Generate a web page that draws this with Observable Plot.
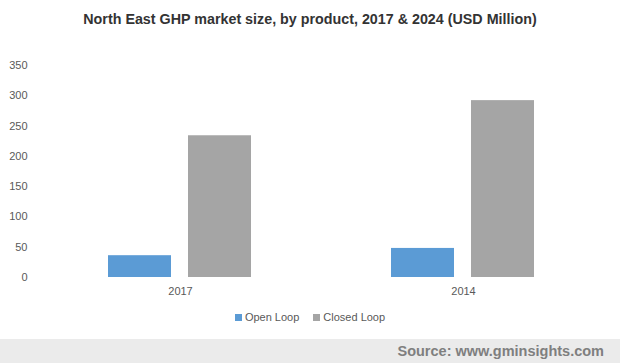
<!DOCTYPE html>
<html>
<head>
<meta charset="utf-8">
<script src="https://cdn.jsdelivr.net/npm/d3@7"></script>
<script src="https://cdn.jsdelivr.net/npm/@observablehq/plot@0.6"></script>
<style>
  html, body { margin: 0; padding: 0; background: #fff; }
  #page { position: relative; width: 620px; height: 363px; overflow: hidden; font-family: "Liberation Sans", Arial, sans-serif; }
  #title { position: absolute; top: 11px; left: 0; width: 620px; text-align: center; font-weight: bold; font-size: 14.3px; color: #333; }
  #chart { position: absolute; top: 40px; left: 0; }
  #legend { position: absolute; top: 308px; left: 0; width: 620px; display: flex; justify-content: center; }
  #legend > div { font-family: "Liberation Sans", Arial, sans-serif; font-size: 11px; color: #595959; min-height: 18px; margin: 0; }
  #legend [class$="-swatch"] > svg { margin-right: 3px; }
  #legend [class$="-swatch"] { margin-right: 14px; }
  #legend [class$="-swatch"]:last-child { margin-right: 0; }
  #footer { position: absolute; top: 339px; left: 0; width: 620px; height: 24px; background: #ebebeb; }
  #source { position: absolute; right: 16px; top: 4px; font-weight: bold; font-size: 14.5px; color: #7f7f7f; }
</style>
</head>
<body>
<div id="page">
  <div id="title">North East GHP market size, by product, 2017 &amp; 2024 (USD Million)</div>
  <div id="chart"></div>
  <div id="legend"></div>
  <div id="footer"><div id="source">Source: www.gminsights.com</div></div>
</div>
<script>
const years = ["2017", "2014"];
const products = ["Open Loop", "Closed Loop"];
const openLoop = [36, 48];
const closedLoop = [234, 292];
const yTicks = [0, 50, 100, 150, 200, 250, 300, 350];
const colors = ["#5B9BD5", "#A5A5A5"];

const data = [];
years.forEach((yr, i) => {
  data.push({year: yr, product: products[0], value: openLoop[i]});
  data.push({year: yr, product: products[1], value: closedLoop[i]});
});

const plot = Plot.plot({
  width: 620,
  height: 262,
  marginLeft: 38,
  marginRight: 15,
  marginTop: 25,
  marginBottom: 25,
  style: {fontSize: "11px", fontFamily: "'Liberation Sans', Arial, sans-serif", color: "#595959", background: "transparent"},
  fx: {domain: years, paddingInner: 0.491, paddingOuter: 0.247, axis: "bottom", label: null, tickSize: 0, tickPadding: 10},
  x: {domain: products, axis: null, paddingInner: 0.21, paddingOuter: 0},
  y: {domain: [0, 350], ticks: yTicks, tickSize: 0, tickPadding: 81, label: null},
  color: {domain: products, range: colors},
  marks: [
    Plot.barY(data, {fx: "year", x: "product", y: "value", fill: "product"})
  ]
});
document.getElementById("chart").appendChild(plot);
document.getElementById("legend").appendChild(plot.legend("color", {swatchSize: 7}));
</script>
</body>
</html>
